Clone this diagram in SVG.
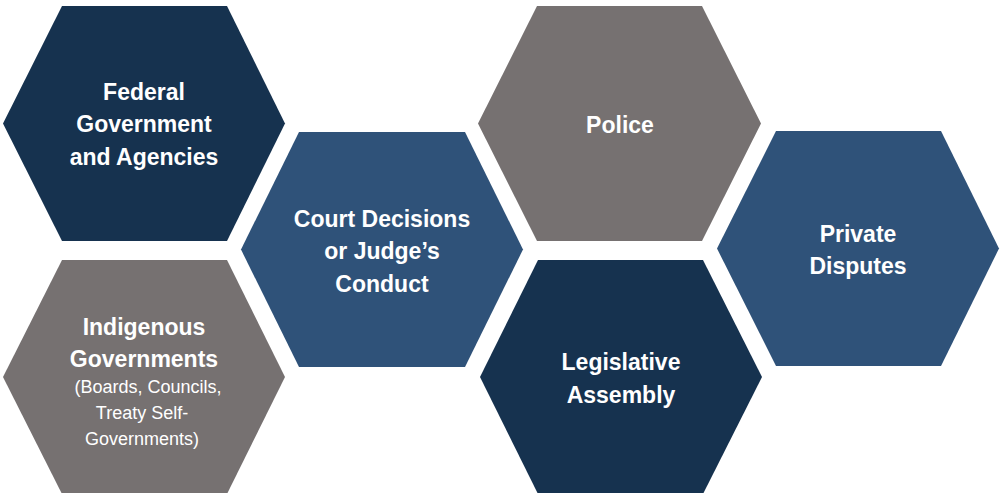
<svg xmlns="http://www.w3.org/2000/svg" width="1000" height="493" viewBox="0 0 1000 493">
<style>
.dark{fill:#16324F}
.mid{fill:#2F5279}
.gray{fill:#767171}
text{font-family:"Liberation Sans",Arial,sans-serif;fill:#FFFFFF;text-anchor:middle}
.b{font-weight:bold;font-size:23px}
.r{font-size:18px}
</style>
<rect width="1000" height="493" fill="#FFFFFF"/>
<g id="federal">
<polygon class="dark" points="62,6 227,6 285,123.5 227,241 62,241 3,123.5"/>
<text class="b" x="144" y="100">Federal</text>
<text class="b" x="144" y="132">Government</text>
<text class="b" x="144" y="165">and Agencies</text>
</g>
<g id="court">
<polygon class="mid" points="299,132 465,132 523,249.5 465,367 299,367 241,249.5"/>
<text class="b" x="382" y="227">Court Decisions</text>
<text class="b" x="382" y="259">or Judge’s</text>
<text class="b" x="382" y="292">Conduct</text>
</g>
<g id="police">
<polygon class="gray" points="537,6 702,6 761,123.5 702,241 537,241 478,123.5"/>
<text class="b" x="620" y="133">Police</text>
</g>
<g id="private">
<polygon class="mid" points="776,131 941,131 999,248.5 941,366 776,366 717,248.5"/>
<text class="b" x="858" y="242">Private</text>
<text class="b" x="858" y="274">Disputes</text>
</g>
<g id="indigenous">
<polygon class="gray" points="62,260 227,260 285,377 227,494 62,494 3,377"/>
<text class="b" x="144" y="335">Indigenous</text>
<text class="b" x="144" y="367">Governments</text>
<text class="r" x="148" y="393">(Boards, Councils,</text>
<text class="r" x="142" y="419">Treaty Self-</text>
<text class="r" x="142" y="445">Governments)</text>
</g>
<g id="legislative">
<polygon class="dark" points="538,260 703,260 762,377 703,494 538,494 480,377"/>
<text class="b" x="621" y="370">Legislative</text>
<text class="b" x="621" y="403">Assembly</text>
</g>
<g id="connectors"/>
</svg>
